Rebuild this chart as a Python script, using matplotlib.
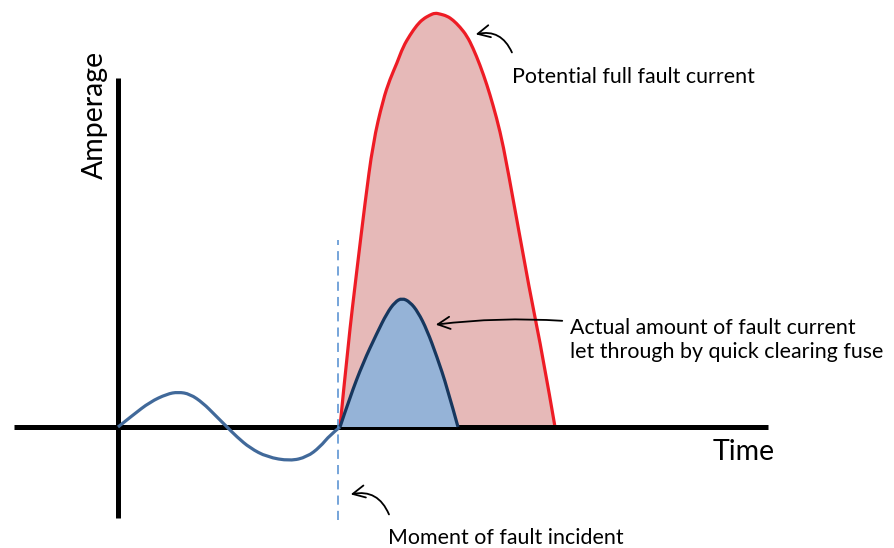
import matplotlib
matplotlib.use("Agg")
import matplotlib.pyplot as plt
from matplotlib.path import Path
from matplotlib.patches import PathPatch

plt.rcParams['font.family'] = ['Lato', 'DejaVu Sans']

# pre-fault supply current (time, amperage)
normal_t = [0, 15, 32, 49, 60, 72, 85, 97, 107, 119, 132, 149, 172, 189, 202, 212, 222]
normal_a = [0, 12, 25, 33, 35, 33, 24, 12, 2, -10, -21, -30, -34, -30, -20, -8, 0]

# potential full fault current
full_t = [222, 230, 239, 247, 255, 265, 272, 279, 285, 292, 299, 305, 312, 317, 322,
          329, 335, 342, 349, 355, 362, 369, 375, 382, 389, 412, 425, 437]
full_a = [0, 82, 158, 224, 284, 327, 348, 364, 380, 392, 402, 408, 412, 414, 413,
          411, 407, 400, 391, 379, 362, 342, 322, 296, 262, 134, 70, 0]

# current let through by the fuse
fuse_t = [222, 232, 245, 259, 269, 277, 284, 292, 300, 309, 319, 329, 340]
fuse_a = [0, 30, 64, 94, 114, 125, 129, 125, 115, 97, 70, 40, 0]

fault_t = 220


def smooth_path(xs, ys, close=False):
    """Quadratic bezier path through the read points (points act as controls)."""
    verts = [(xs[0], ys[0])]
    codes = [Path.MOVETO]
    for i in range(1, len(xs) - 1):
        mid = ((xs[i] + xs[i + 1]) / 2, (ys[i] + ys[i + 1]) / 2)
        if i == len(xs) - 2:
            mid = (xs[-1], ys[-1])
        verts += [(xs[i], ys[i]), mid]
        codes += [Path.CURVE3, Path.CURVE3]
    if close:
        verts += [(xs[0], ys[0])]
        codes += [Path.LINETO]
    return Path(verts, codes)


fig = plt.figure(figsize=(8.94, 5.48), dpi=100)
ax = fig.add_axes([0, 0, 1, 1])
ax.set_xlim(-118, 776)
ax.set_ylim(-121, 427)
ax.axis('off')

ax.add_patch(PathPatch(smooth_path(full_t, full_a, True), fc='#e6b9b8', ec='none', zorder=1))
ax.add_patch(PathPatch(smooth_path(full_t, full_a), fc='none', ec='#ee1c25', lw=2.3, zorder=2))
ax.add_patch(PathPatch(smooth_path(fuse_t, fuse_a, True), fc='#95b3d7', ec='none', zorder=3))
ax.add_patch(PathPatch(smooth_path(fuse_t, fuse_a), fc='none', ec='#17375e', lw=2.3, zorder=4))
ax.add_patch(PathPatch(smooth_path(normal_t, normal_a), fc='none', ec='#41699a', lw=2.3, zorder=4))

# axes drawn as thick lines
ax.plot([-104, 650], [0, 0], color='black', lw=3.6, zorder=2.5, solid_capstyle='butt')
ax.plot([0, 0], [-91, 349], color='black', lw=3.6, zorder=2.5, solid_capstyle='butt')
ax.plot([fault_t, fault_t], [-93, 187], color='#4f8bd0', lw=1.1, ls=(0, (6, 4)), zorder=5)

ax.text(-23, 312, 'Amperage', rotation=90, fontsize=20.5, ha='center', va='center')
ax.text(595, -25, 'Time', fontsize=20.5, ha='left', va='center')

arrow = dict(arrowstyle='->', color='black', lw=1.3, mutation_scale=22)
ax.annotate('', xy=(355, 392), xytext=(395, 372),
            arrowprops=dict(arrow, connectionstyle='arc3,rad=0.45'))
ax.text(394, 350, 'Potential full fault current', fontsize=15.4, ha='left', va='center')

ax.annotate('', xy=(315, 102), xytext=(447, 106),
            arrowprops=dict(arrow, connectionstyle='arc3,rad=0.05'))
ax.text(452, 87, 'Actual amount of fault current\nlet through by quick clearing fuse',
        fontsize=15.4, ha='left', va='center', linespacing=1.3)

ax.annotate('', xy=(230, -68), xytext=(272, -90),
            arrowprops=dict(arrow, connectionstyle='arc3,rad=0.45'))
ax.text(270, -111, 'Moment of fault incident', fontsize=15.4, ha='left', va='center')

fig.savefig('out.png', dpi=100)
